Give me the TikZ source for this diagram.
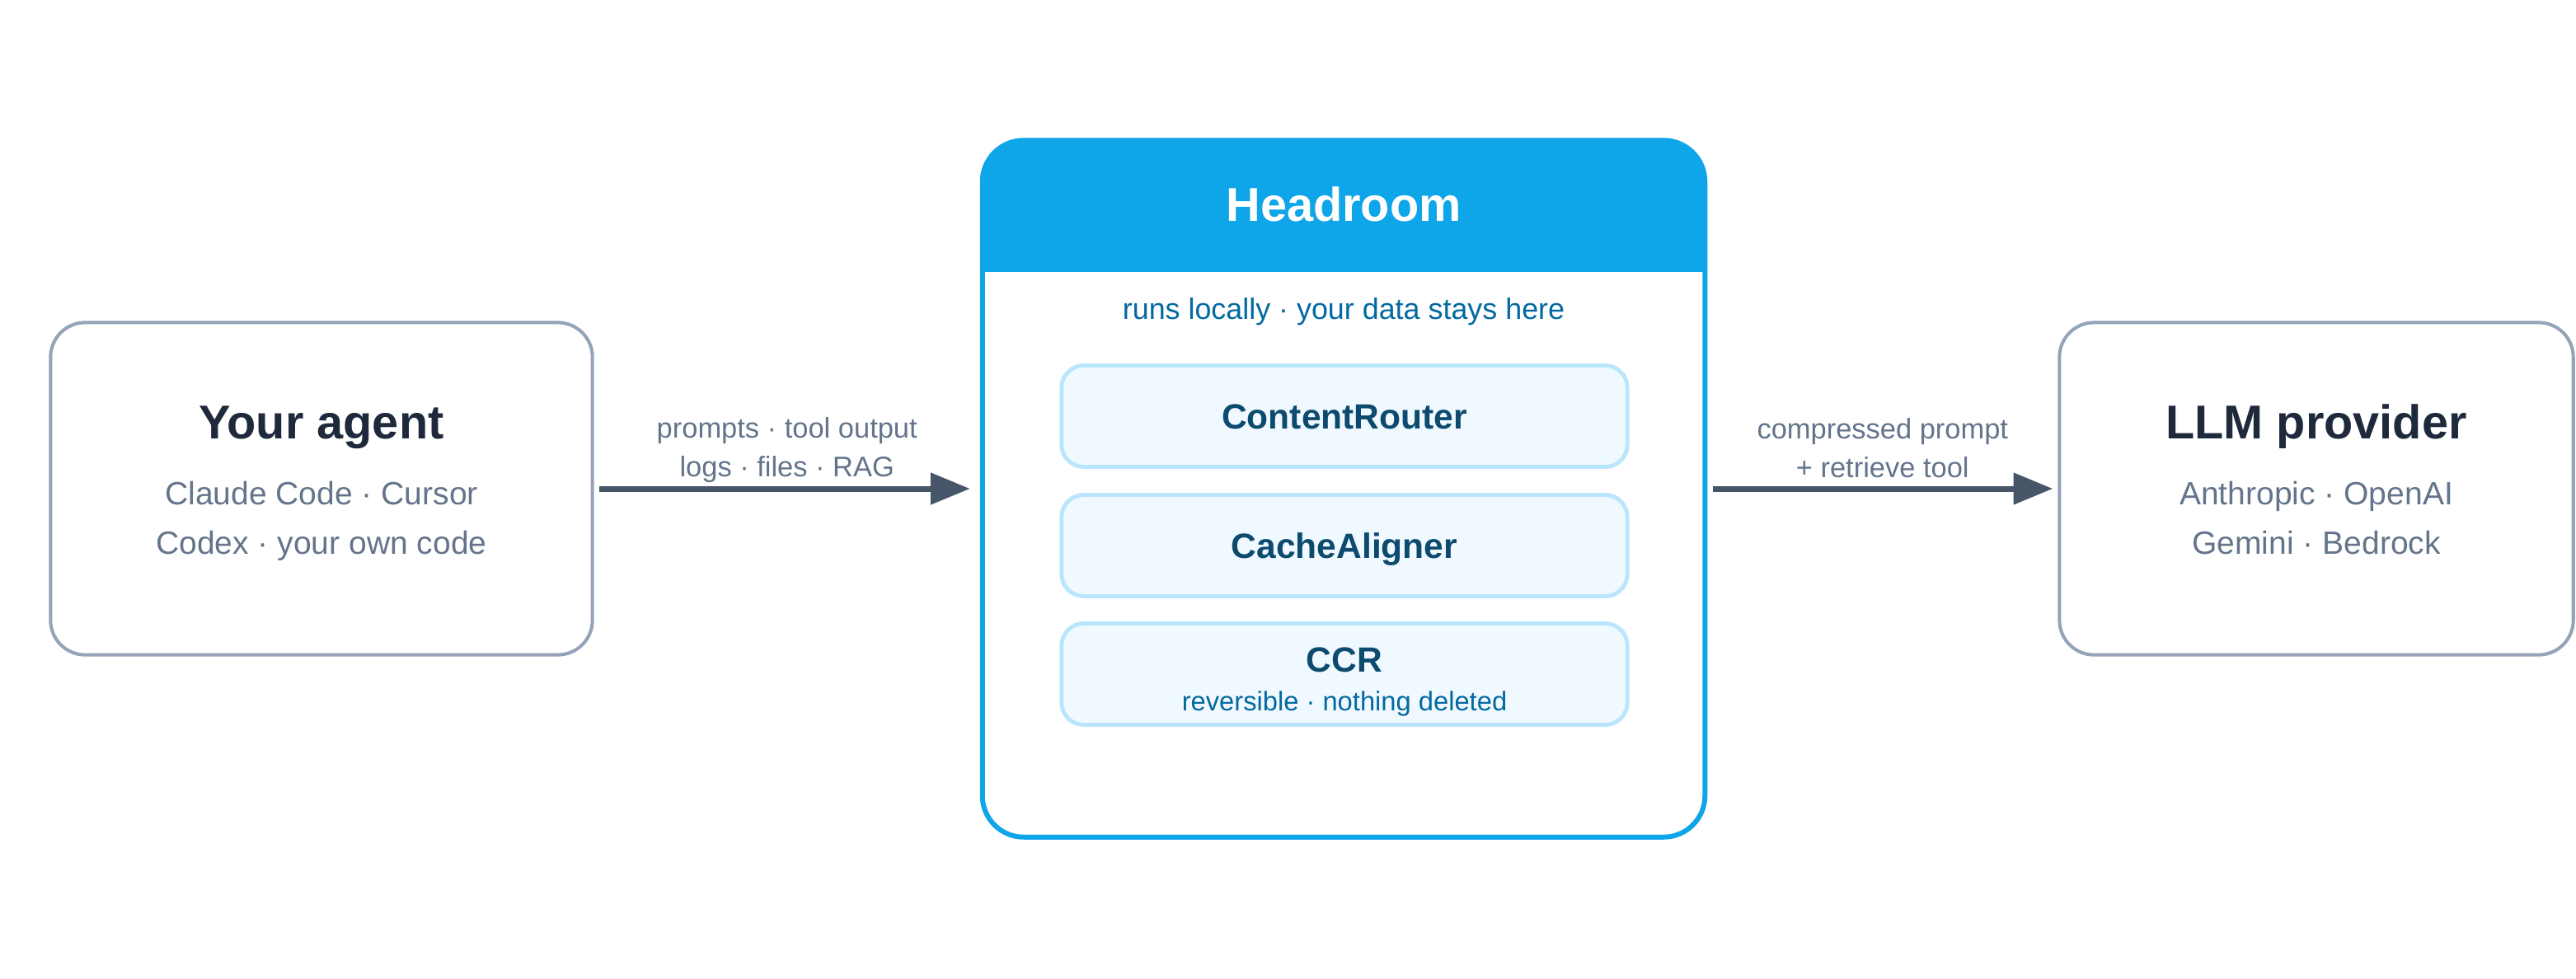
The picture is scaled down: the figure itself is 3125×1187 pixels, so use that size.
\documentclass[tikz,border=0pt]{standalone}
\usepackage{fontspec}
\setmainfont{Liberation Sans}
\usetikzlibrary{arrows.meta}

\definecolor{edgegrey}{HTML}{94A3B8}
\definecolor{titleink}{HTML}{1E293B}
\definecolor{subgrey}{HTML}{64748B}
\definecolor{arrowgrey}{HTML}{475569}
\definecolor{hdblue}{HTML}{0EA5E9}
\definecolor{hdtext}{HTML}{0369A1}
\definecolor{compink}{HTML}{0C4A6E}
\definecolor{compfill}{HTML}{F0F9FF}
\definecolor{compedge}{HTML}{BAE6FD}

\begin{document}
\begin{tikzpicture}[x=0.01cm, y=-0.01cm,
    endbox/.style={draw=edgegrey, line width=1.15pt, rounded corners=0.42cm, minimum height=4.03cm, inner sep=0pt},
    ttl/.style={anchor=base, inner sep=0pt, text=titleink, font=\fontsize{16.4}{20}\selectfont\bfseries},
    sub/.style={anchor=south, inner sep=0pt, text depth=0pt, align=center, text=subgrey, font=\fontsize{11.1}{17.1}\selectfont},
    comp/.style={draw=compedge, fill=compfill, line width=1.4pt, rounded corners=0.27cm, minimum width=6.86cm, minimum height=1.23cm, inner sep=0pt, text=compink, text height=8.7pt, text depth=0pt, font=\fontsize{12.1}{14}\selectfont\bfseries},
    note/.style={anchor=base, inner sep=0pt, text=hdtext},
    flow/.style={draw=arrowgrey, line width=2pt, -{Triangle[length=13.6pt, width=10.6pt]}},
    lbl/.style={inner sep=0pt, text depth=0pt, align=center, text=subgrey, font=\fontsize{9.8}{13.4}\selectfont}]

        \useasboundingbox (0,0) rectangle (3125,1187);

        % outer boxes
        \node[endbox, minimum width=6.57cm] (agent) at (390,593) {};
        \node[endbox, minimum width=6.23cm] (llm) at (2810,593) {};

        % headroom with its header band
        \node[draw=hdblue, fill=white, line width=1.7pt, rounded corners=0.5cm, minimum width=8.76cm, minimum height=8.45cm, inner sep=0pt] (headroom) at (1630,593) {};
        \node[fill=hdblue, rounded corners=0.5cm, minimum width=8.76cm, minimum height=1.58cm, inner sep=0pt] (header) at (1630,250) {};
        \fill[hdblue] (header.west) rectangle (header.south east);

        \node[ttl] (agentname) at (390,532) {Your agent};
        \node[sub] (agentlist) at (390,673) {Claude Code · Cursor\\Codex · your own code};
        \node[ttl] (llmname) at (2810,532) {LLM provider};
        \node[sub] (llmlist) at (2810,673) {Anthropic · OpenAI\\Gemini · Bedrock};
        \node[ttl, text=white] (hdname) at (1630,268) {Headroom};
        \node[note, font=\fontsize{10.2}{12}\selectfont] (hdnote) at (1630,387) {runs locally · your data stays here};

        % components
        \node[comp] (router) at (1631,505) {ContentRouter};
        \node[comp] (aligner) at (1631,662) {CacheAligner};
        \node[comp] (ccr) at (1631,818) {};
        \node[note, text=compink, font=\fontsize{12.1}{14}\selectfont\bfseries] (ccrname) at (1631,815) {CCR};
        \node[note, font=\fontsize{9.3}{11}\selectfont] (ccrnote) at (1631,862) {reversible · nothing deleted};

        \draw[flow, shorten <=0.06cm, shorten >=0.12cm] (agent) -- node[lbl, above=0.11cm] {prompts · tool output\\logs · files · RAG} (headroom);
        \draw[flow, shorten <=0.07cm, shorten >=0.06cm] (headroom) -- node[lbl, above=0.10cm] {compressed prompt\\+ retrieve tool} (llm);
\end{tikzpicture}
\end{document}
